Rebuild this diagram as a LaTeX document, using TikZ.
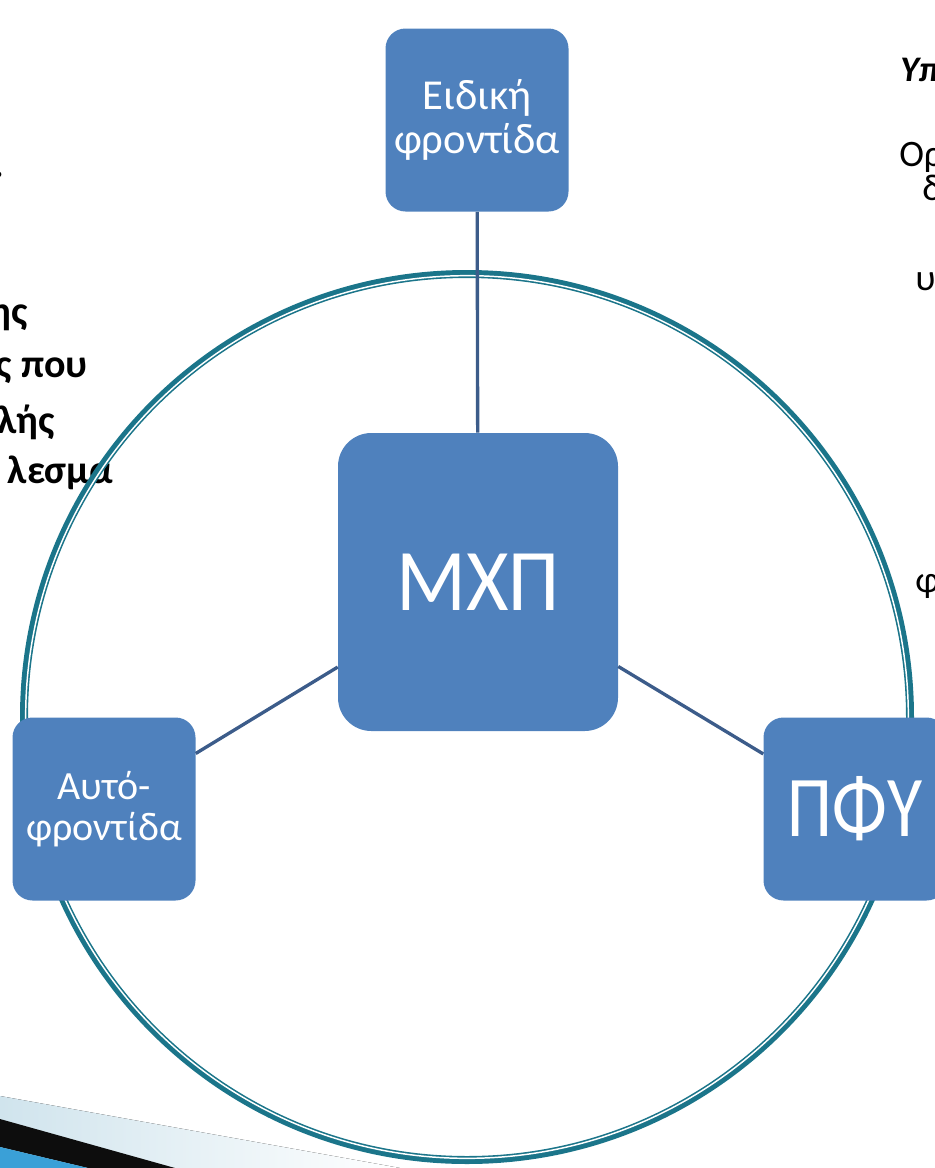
\documentclass[tikz,border=0pt]{standalone}
\usepackage{fontspec}
\setmainfont{Carlito}
\definecolor{boxblue}{RGB}{79,129,189}
\definecolor{ringteal}{RGB}{27,117,138}
\definecolor{linkblue}{RGB}{60,92,138}
\definecolor{swooshlight}{RGB}{208,228,237}
\definecolor{swooshblue}{RGB}{58,160,215}
\begin{document}
\begin{tikzpicture}[x=0.75pt,y=-0.75pt,
  box/.style={fill=boxblue, text=white, align=center, inner sep=0pt,
    rounded corners=15pt, minimum width=137.25pt, minimum height=137.25pt,
    font=\fontsize{30}{31}\selectfont},
  bigbox/.style={box, rounded corners=25pt, minimum width=210pt, minimum height=223.5pt},
  link/.style={draw=linkblue, line width=2.5pt},
  lefttxt/.style={anchor=base east, inner sep=0pt, font=\fontsize{30}{34}\bfseries},
  righttxt/.style={anchor=base west, inner sep=0pt, font=\fontsize{28}{32}\selectfont}]
\useasboundingbox (0,0) rectangle (935,1168);

% corner swoosh
\fill[left color=swooshlight, right color=white] (0,1096) -- (400,1168) -- (0,1168) -- cycle;
\fill[black!95] (0,1119) -- (175,1168) -- (88,1168) -- (0,1147) -- cycle;
\fill[swooshblue] (0,1147) -- (88,1168) -- (0,1168) -- cycle;

% text cut at the left edge
\node[lefttxt] (l0) at (4,177) {.};
\node[lefttxt] (l1) at (28,324) {ης};
\node[lefttxt] (l2) at (88,377) {ς που};
\node[lefttxt] (l3) at (55,433) {λής};
\node[lefttxt] (l4) at (113,483) {λεσμα};

% text cut at the right edge
\node[righttxt, font=\fontsize{27}{30}\bfseries\itshape] (r1) at (900,81) {Υπ};
\node[righttxt] (r2) at (899,166) {Ορ};
\node[righttxt] (r3) at (922,200) {δ};
\node[righttxt] (r4) at (915,290) {υ};
\node[righttxt] (r5) at (915,592) {φ};

% double ring
\coordinate (cc) at (467,717);
\draw[ringteal, line width=6pt] (cc) circle[radius=332.25pt];
\draw[white, line width=1.1pt] (cc) circle[radius=331pt];

% boxes
\node[box, font=\fontsize{32}{33}\selectfont] (eidiki) at (477,120) {Ειδική\\φροντίδα};
\node[bigbox] (mxp) at (478,582) {\fontsize{66}{66}\selectfont\scalebox{0.93}[1]{ΜΧΠ}};
\node[box] (auto) at (104,809) {Αυτό-\\φροντίδα};
\node[box] (pfy) at (855,809) {\fontsize{65}{65}\selectfont\scalebox{0.83}[1]{ΠΦΥ}};

% connectors
\draw[link] (eidiki) -- (mxp);
\draw[link] (mxp) -- (auto);
\draw[link] (mxp) -- (pfy);
\end{tikzpicture}
\end{document}
